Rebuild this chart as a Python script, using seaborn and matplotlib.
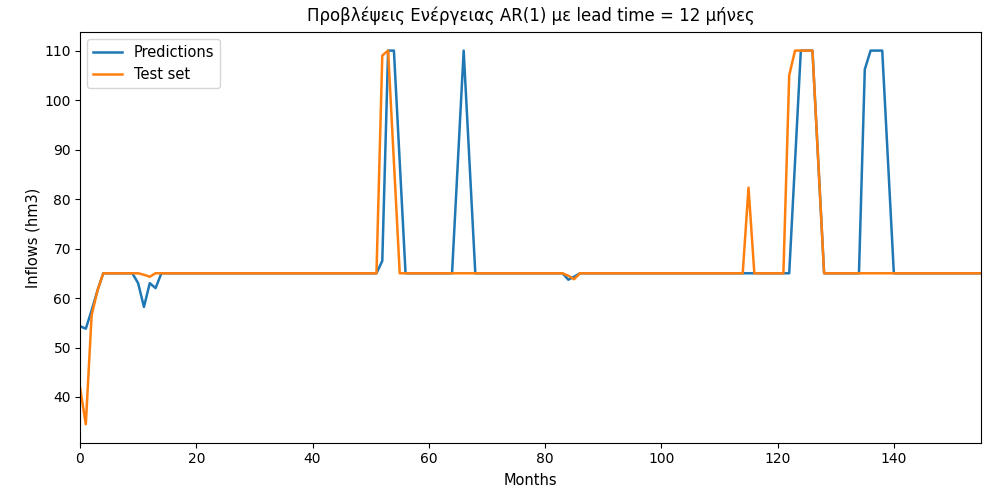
import matplotlib
matplotlib.use("Agg")
import matplotlib.pyplot as plt
import seaborn as sns
import pandas as pd
import numpy as np

months = list(range(156))

predictions = [
    54.3, 53.8, 57.5, 61.5, 65.0, 65.0, 65.0, 65.0, 65.0, 65.0,   # 0-9
    63.0, 58.2, 63.0, 62.0, 65.0, 65.0, 65.0, 65.0, 65.0, 65.0,   # 10-19
    65.0, 65.0, 65.0, 65.0, 65.0, 65.0, 65.0, 65.0, 65.0, 65.0,   # 20-29
    65.0, 65.0, 65.0, 65.0, 65.0, 65.0, 65.0, 65.0, 65.0, 65.0,   # 30-39
    65.0, 65.0, 65.0, 65.0, 65.0, 65.0, 65.0, 65.0, 65.0, 65.0,   # 40-49
    65.0, 65.0, 67.5, 110.0, 110.0, 87.5, 65.0, 65.0, 65.0, 65.0, # 50-59
    65.0, 65.0, 65.0, 65.0, 65.0, 87.5, 110.0, 87.5, 65.0, 65.0,  # 60-69
    65.0, 65.0, 65.0, 65.0, 65.0, 65.0, 65.0, 65.0, 65.0, 65.0,   # 70-79
    65.0, 65.0, 65.0, 65.0, 63.7, 64.3, 65.0, 65.0, 65.0, 65.0,   # 80-89
    65.0, 65.0, 65.0, 65.0, 65.0, 65.0, 65.0, 65.0, 65.0, 65.0,   # 90-99
    65.0, 65.0, 65.0, 65.0, 65.0, 65.0, 65.0, 65.0, 65.0, 65.0,   # 100-109
    65.0, 65.0, 65.0, 65.0, 65.0, 65.0, 65.0, 65.0, 65.0, 65.0,   # 110-119
    65.0, 65.0, 65.0, 87.5, 110.0, 110.0, 110.0, 87.5, 65.0, 65.0,  # 120-129
    65.0, 65.0, 65.0, 65.0, 65.0, 106.2, 110.0, 110.0, 110.0, 87.5, # 130-139
    65.0, 65.0, 65.0, 65.0, 65.0, 65.0, 65.0, 65.0, 65.0, 65.0,   # 140-149
    65.0, 65.0, 65.0, 65.0, 65.0, 65.0,                           # 150-155
]

test_set = [
    42.0, 34.5, 56.5, 61.5, 65.0, 65.0, 65.0, 65.0, 65.0, 65.0,   # 0-9
    65.0, 64.7, 64.3, 65.0, 65.0, 65.0, 65.0, 65.0, 65.0, 65.0,   # 10-19
    65.0, 65.0, 65.0, 65.0, 65.0, 65.0, 65.0, 65.0, 65.0, 65.0,   # 20-29
    65.0, 65.0, 65.0, 65.0, 65.0, 65.0, 65.0, 65.0, 65.0, 65.0,   # 30-39
    65.0, 65.0, 65.0, 65.0, 65.0, 65.0, 65.0, 65.0, 65.0, 65.0,   # 40-49
    65.0, 65.0, 109.0, 110.0, 87.5, 65.0, 65.0, 65.0, 65.0, 65.0, # 50-59
    65.0, 65.0, 65.0, 65.0, 65.0, 65.0, 65.0, 65.0, 65.0, 65.0,   # 60-69
    65.0, 65.0, 65.0, 65.0, 65.0, 65.0, 65.0, 65.0, 65.0, 65.0,   # 70-79
    65.0, 65.0, 65.0, 65.0, 64.5, 63.8, 65.0, 65.0, 65.0, 65.0,   # 80-89
    65.0, 65.0, 65.0, 65.0, 65.0, 65.0, 65.0, 65.0, 65.0, 65.0,   # 90-99
    65.0, 65.0, 65.0, 65.0, 65.0, 65.0, 65.0, 65.0, 65.0, 65.0,   # 100-109
    65.0, 65.0, 65.0, 65.0, 65.0, 82.3, 65.0, 65.0, 65.0, 65.0,   # 110-119
    65.0, 65.0, 105.0, 110.0, 110.0, 110.0, 110.0, 87.5, 65.0, 65.0, # 120-129
    65.0, 65.0, 65.0, 65.0, 65.0, 65.0, 65.0, 65.0, 65.0, 65.0,   # 130-139
    65.0, 65.0, 65.0, 65.0, 65.0, 65.0, 65.0, 65.0, 65.0, 65.0,   # 140-149
    65.0, 65.0, 65.0, 65.0, 65.0, 65.0,                           # 150-155
]

series_names = ["Predictions", "Test set"]
title = "Προβλέψεις Ενέργειας AR(1) με lead time = 12 μήνες"

df = pd.concat([
    pd.DataFrame({"Months": months, "value": predictions, "series": series_names[0]}),
    pd.DataFrame({"Months": months, "value": test_set, "series": series_names[1]}),
], ignore_index=True)

plt.rcParams['font.family'] = ['DejaVu Sans']

fig = plt.figure(figsize=(9.84, 4.91), dpi=100)
ax = fig.add_axes([0.0813, 0.098, 0.9157, 0.837])

sns.lineplot(data=df, x="Months", y="value", hue="series",
             palette=["#1f77b4", "#ff7f0e"], linewidth=1.8, ax=ax)

ax.set_xlim(0, 155)
ax.set_xticks([0, 20, 40, 60, 80, 100, 120, 140])
ax.set_yticks([40, 50, 60, 70, 80, 90, 100, 110])
ax.tick_params(labelsize=10, pad=3)
ax.set_xlabel("Months", fontsize=10.5, labelpad=5)
ax.set_ylabel("Inflows (hm3)", fontsize=10.5, labelpad=3)
ax.set_title(title, fontsize=12, pad=8)
leg = ax.legend(loc="upper left", fontsize=10.5, handlelength=2.0)

fig.savefig("out.png", dpi=100)
